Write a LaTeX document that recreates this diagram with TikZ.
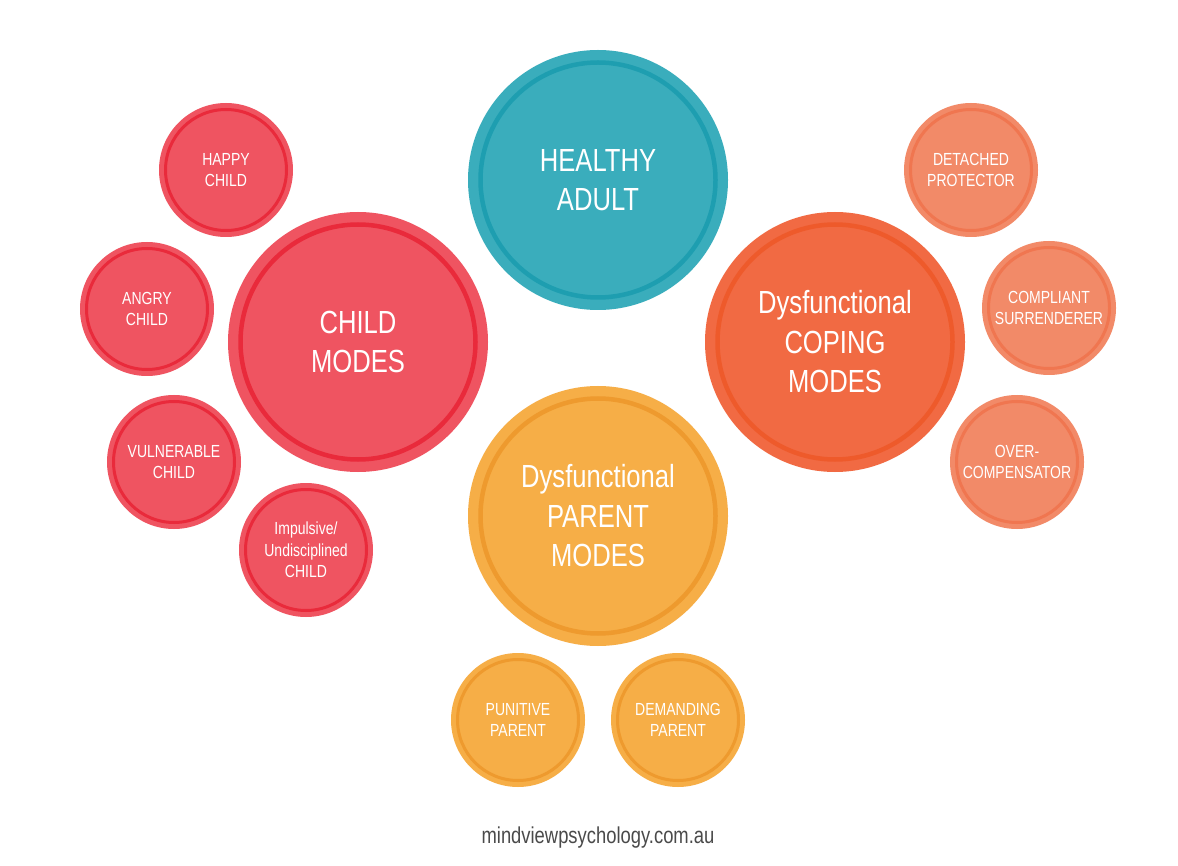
\documentclass[tikz,border=0pt]{standalone}
\usepackage{fontspec}
\setmainfont[FakeStretch=0.8]{Liberation Sans}
\definecolor{redfill}{HTML}{EF5461}
\definecolor{redring}{HTML}{E92A3B}
\definecolor{tealfill}{HTML}{3AADBC}
\definecolor{tealring}{HTML}{1E9EB0}
\definecolor{orfill}{HTML}{F16A43}
\definecolor{orring}{HTML}{EE5A2B}
\definecolor{lorfill}{HTML}{F28A68}
\definecolor{lorring}{HTML}{F07650}
\definecolor{yelfill}{HTML}{F6AE47}
\definecolor{yelring}{HTML}{EE9A2E}
\definecolor{webgrey}{HTML}{4A4A4A}
\tikzset{
  bigbub/.style 2 args={circle, inner sep=0pt, minimum size=260pt, fill=#1,
    text=white, align=center, font=\fontsize{32}{39.5}\selectfont,
    path picture={\draw[#2, line width=4.5pt] (path picture bounding box.center) circle (117.5pt);}},
  smallbub/.style 2 args={circle, inner sep=0pt, minimum size=134pt, fill=#1,
    text=white, align=center, font=\fontsize{17.5}{21.5}\selectfont,
    path picture={\draw[#2, line width=3pt] (path picture bounding box.center) circle (60.5pt);}},
  weblabel/.style={text=webgrey, font=\fontsize{23}{27}\selectfont}
}
\begin{document}
\begin{tikzpicture}[x=1pt,y=-1pt]
\useasboundingbox (0,0) rectangle (1178,866);
\fill[white] (0,0) rectangle (1178,866);
% big circles
\node[bigbub={tealfill}{tealring}] (adult) at (598,180) {HEALTHY\\ADULT};
\node[bigbub={redfill}{redring}] (child) at (358,342) {CHILD\\MODES};
\node[bigbub={orfill}{orring}] (coping) at (835,342) {Dysfunctional\\COPING\\MODES};
\node[bigbub={yelfill}{yelring}] (parent) at (598,516) {Dysfunctional\\PARENT\\MODES};
% child modes
\node[smallbub={redfill}{redring}] (happy) at (226,170) {HAPPY\\CHILD};
\node[smallbub={redfill}{redring}] (angry) at (147,309) {ANGRY\\CHILD};
\node[smallbub={redfill}{redring}] (vuln) at (174,462) {VULNERABLE\\CHILD};
\node[smallbub={redfill}{redring}] (impulsive) at (306,550) {Impulsive/\\Undisciplined\\CHILD};
% coping modes
\node[smallbub={lorfill}{lorring}] (detached) at (971,170) {DETACHED\\PROTECTOR};
\node[smallbub={lorfill}{lorring}] (compliant) at (1049,308) {COMPLIANT\\SURRENDERER};
\node[smallbub={lorfill}{lorring}] (over) at (1017,462) {OVER-\\COMPENSATOR};
% parent modes
\node[smallbub={yelfill}{yelring}] (punitive) at (518,720) {PUNITIVE\\PARENT};
\node[smallbub={yelfill}{yelring}] (demanding) at (678,720) {DEMANDING\\PARENT};
% website
\node[weblabel] (web) at (598,838) {mindviewpsychology.com.au};
\end{tikzpicture}
\end{document}
